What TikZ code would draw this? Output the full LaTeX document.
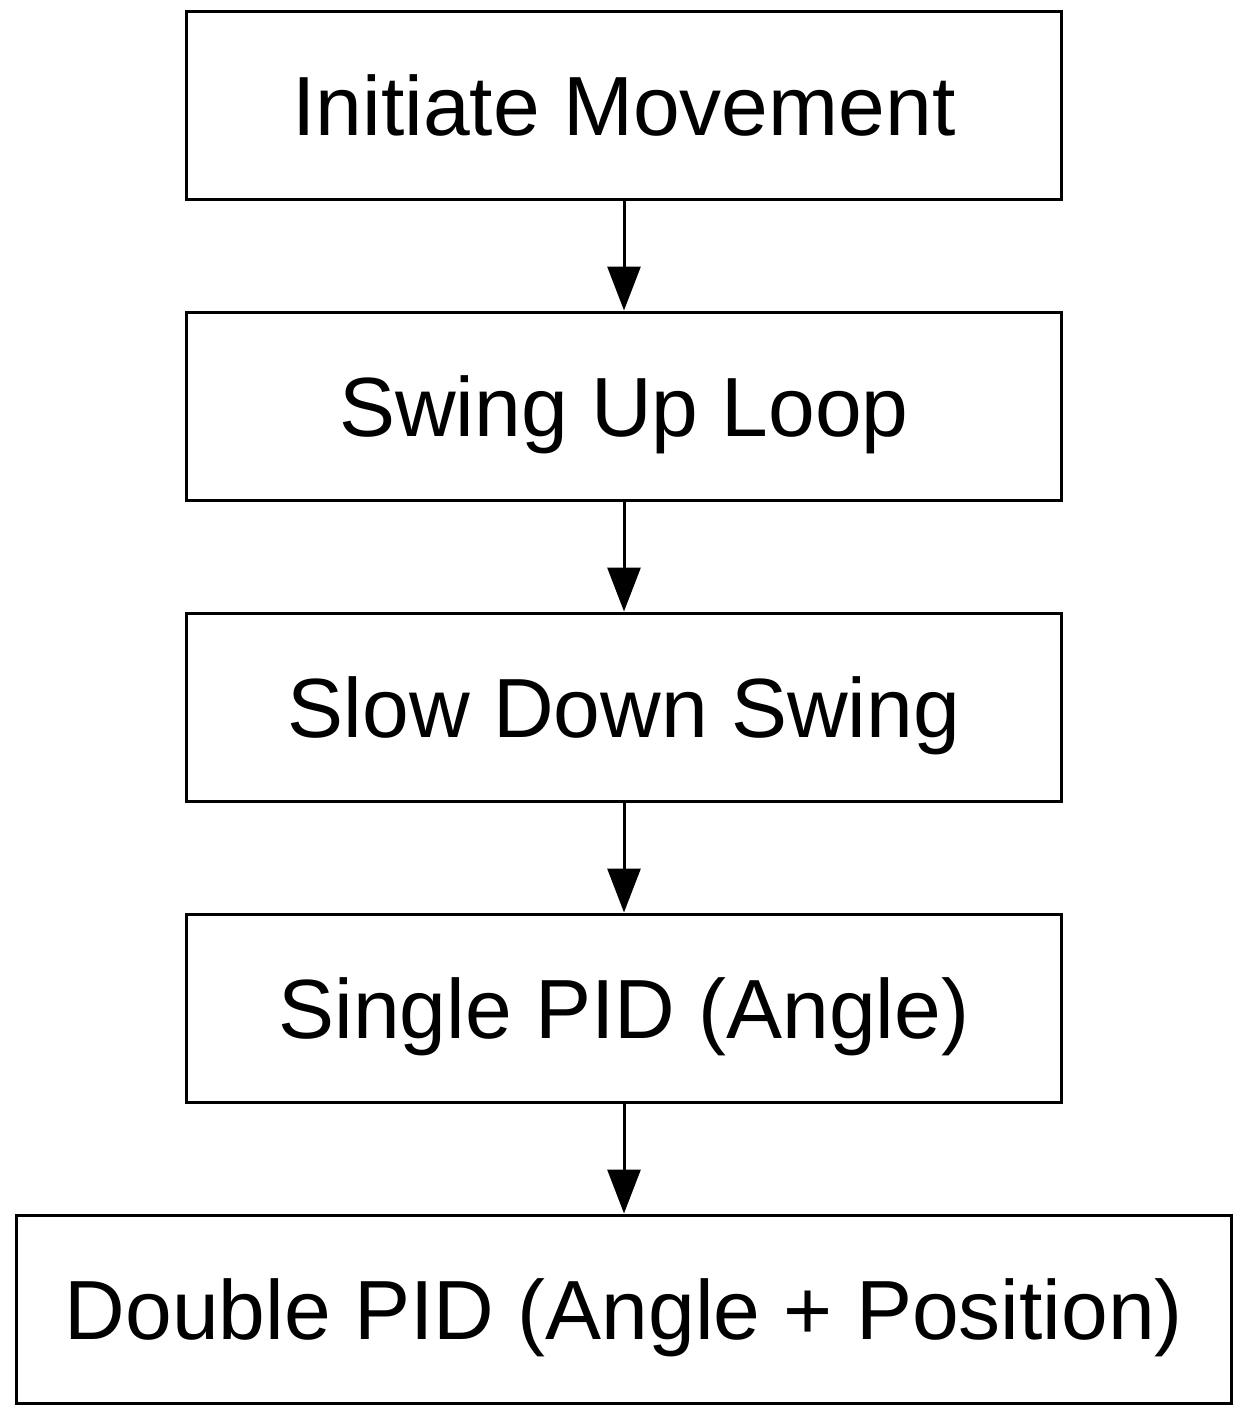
\documentclass[tikz,border=0pt]{standalone}
\usepackage{fontspec}
\setmainfont{Liberation Sans}
\usetikzlibrary{positioning,arrows.meta}
\tikzset{
  stage/.style={
    draw=black,
    line width=3pt,
    minimum width=875pt,
    minimum height=188pt,
    inner sep=0pt,
    text height=60pt,
    text depth=0pt,
    font=\fontsize{84}{96}\selectfont,
    align=center
  },
  widestage/.style={stage, minimum width=1215pt},
  flow/.style={line width=3pt, -{Triangle[length=44pt,width=33pt]}},
}
\begin{document}
\begin{tikzpicture}
  \useasboundingbox (0,0) rectangle (1248pt,-1419pt);
  \node[stage] (init) at (624pt,-105pt) {Initiate Movement};
  \node[stage, below=110pt of init] (swing) {Swing Up Loop};
  \node[stage, below=110pt of swing] (slow) {Slow Down Swing};
  \node[stage, below=110pt of slow] (single) {Single PID (Angle)};
  \node[widestage, below=110pt of single] (double) {Double PID (Angle + Position)};
  % arrows between stages
  \foreach \a/\b in {init/swing, swing/slow, slow/single, single/double}
    \draw[flow] (\a.south) -- (\b.north);
\end{tikzpicture}
\end{document}
